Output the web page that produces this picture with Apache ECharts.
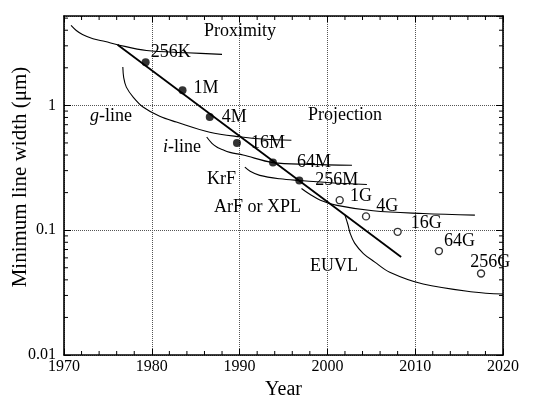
<!DOCTYPE html>
<html><head><meta charset="utf-8">
<script src="https://cdn.jsdelivr.net/npm/echarts@6/dist/echarts.min.js"></script>
<style>html,body{margin:0;padding:0;background:#fff}#c{width:535px;height:400px}</style>
</head><body><div id="c"></div>
<script>
// ---- data ----
const xTickYears = [1970, 1980, 1990, 2000, 2010, 2020];
const yTickValues = [0.01, 0.1, 1];

const trendYears = [1976.1, 2008.4];
const trendValues = [3.06, 0.061];

const proximityYears = [1970.8, 1971.4, 1972.1, 1973.3, 1974.7, 1976.1, 1979.4, 1984.0, 1988.0];
const proximityValues = [4.37, 3.98, 3.70, 3.42, 3.25, 3.06, 2.75, 2.64, 2.56];

const gLineYears = [1976.7, 1976.8, 1977.1, 1977.9, 1979.0, 1980.9, 1982.8, 1986.6, 1990.0, 1992.9, 1995.9];
const gLineValues = [2.03, 1.67, 1.40, 1.16, 0.97, 0.817, 0.735, 0.61, 0.56, 0.535, 0.525];

const iLineYears = [1986.25, 1986.85, 1987.4, 1987.8, 1988.9, 1990.4, 1993.8, 1998.0, 2002.8];
const iLineValues = [0.558, 0.497, 0.464, 0.45, 0.42, 0.40, 0.348, 0.337, 0.331];

const krfYears = [1990.6, 1991.2, 1992.3, 1994.6, 1996.8, 2000.3, 2004.5];
const krfValues = [0.32, 0.297, 0.275, 0.258, 0.25, 0.24, 0.232];

const arfYears = [1997.05, 1998.0, 1999.2, 2001.1, 2005.2, 2010.9, 2016.8];
const arfValues = [0.216, 0.194, 0.174, 0.158, 0.143, 0.136, 0.132];

const euvlYears = [2002.0, 2002.35, 2002.6, 2003.1, 2004.1, 2005.4, 2007.1, 2010.9, 2016.6, 2020.0];
const euvlValues = [0.132, 0.11, 0.094, 0.0787, 0.065, 0.0555, 0.046, 0.037, 0.032, 0.0308];

const dramNames = ['256K', '1M', '4M', '16M', '64M', '256M'];
const dramYears = [1979.3, 1983.5, 1986.6, 1989.7, 1993.8, 1996.8];
const dramValues = [2.22, 1.32, 0.806, 0.50, 0.348, 0.25];

const futureNames = ['1G', '4G', '16G', '64G', '256G'];
const futureYears = [2001.4, 2004.4, 2008.0, 2012.7, 2017.5];
const futureValues = [0.174, 0.129, 0.097, 0.068, 0.045];

// ---- layout / style ----
const FONT = '"Liberation Serif","DejaVu Serif",serif';
const X_MIN = 1970, X_MAX = 2020, Y_MIN = 0.01, Y_MAX = 5.2;
const dramLabelOffsets = [[-3, -10], [3, -2], [4, 0], [6, 0], [16, 0], [8, 0]];
const futureLabelOffsets = [[2, -4], [2, -10], [5, -9], [-3, -10], [-19, -11]];

// minor tick positions (axis decoration)
const yMinorTicks = [];
[-2, -1, 0].forEach(function (k) {
  for (let m = 2; m <= 9; m++) {
    const v = m * Math.pow(10, k);
    if (v < Y_MAX) yMinorTicks.push(v);
  }
});
const xMinorTicks = [];
for (let y = X_MIN + 2; y < X_MAX; y += 2) { if (y % 10 !== 0) xMinorTicks.push(y); }

function zip(a, b) { return a.map(function (v, i) { return [v, b[i]]; }); }

const chart = echarts.init(document.getElementById('c'), null, { renderer: 'canvas' });

const axisLineStyle = { color: '#000', width: 1.6 };
const gridLineStyle = { color: '#555', width: 1, type: [1, 1] };

function xAxisCfg(pos, main) {
  return {
    type: 'value', position: pos, min: X_MIN, max: X_MAX, interval: 10,
    axisLine: { show: true, onZero: false, lineStyle: axisLineStyle },
    axisTick: { show: true, inside: true, length: 6, lineStyle: { color: '#000', width: 1 } },
    axisLabel: main ? {
      show: true, color: '#000', fontFamily: FONT, fontSize: 16, margin: 4,
      formatter: function (v) { return xTickYears.indexOf(v) >= 0 ? String(v) : ''; }
    } : { show: false },
    splitLine: { show: main, lineStyle: gridLineStyle },
    name: main ? 'Year' : '', nameLocation: 'middle', nameGap: 25,
    nameTextStyle: { color: '#000', fontFamily: FONT, fontSize: 20 }
  };
}
function yAxisCfg(pos, main) {
  return {
    type: 'log', logBase: 10, position: pos, min: Y_MIN, max: Y_MAX,
    axisLine: { show: true, onZero: false, lineStyle: axisLineStyle },
    axisTick: { show: true, inside: true, length: 7, lineStyle: { color: '#000', width: 1 } },
    axisLabel: main ? {
      show: true, color: '#000', fontFamily: FONT, fontSize: 16, margin: 8, showMaxLabel: false,
      formatter: function (v) {
        for (let i = 0; i < yTickValues.length; i++) {
          if (Math.abs(v - yTickValues[i]) / yTickValues[i] < 1e-6) return String(yTickValues[i]);
        }
        return '';
      }
    } : { show: false },
    splitLine: { show: main, lineStyle: gridLineStyle }
  };
}

function curve(name, xs, ys, w) {
  return {
    name: name, type: 'line', data: zip(xs, ys), symbol: 'none', smooth: 0.35,
    lineStyle: { color: '#000', width: w || 1.1 }, z: 3, silent: true
  };
}

const labelStyle = {
  show: true, position: 'right', distance: 4, formatter: '{b}',
  color: '#000', opacity: 1, textBorderWidth: 0, fontFamily: FONT, fontSize: 18
};

const option = {
  animation: false,
  backgroundColor: '#fff',
  grid: { left: 64, right: 32, top: 16, bottom: 45, containLabel: false, outerBoundsMode: 'none' },
  xAxis: [xAxisCfg('bottom', true), xAxisCfg('top', false)],
  yAxis: [yAxisCfg('left', true), yAxisCfg('right', false)],
  series: [
    {
      type: 'custom', silent: true, clip: false, z: 6,
      data: yMinorTicks.map(function (v) { return [X_MIN, v]; }),
      renderItem: function (params, api) {
        const v = api.value(1);
        const pl = api.coord([X_MIN, v]);
        const pr = api.coord([X_MAX, v]);
        return {
          type: 'group', children: [
            { type: 'line', shape: { x1: pl[0], y1: pl[1], x2: pl[0] + 4, y2: pl[1] }, style: { stroke: '#000', lineWidth: 1 } },
            { type: 'line', shape: { x1: pr[0], y1: pr[1], x2: pr[0] - 4, y2: pr[1] }, style: { stroke: '#000', lineWidth: 1 } }
          ]
        };
      }
    },
    {
      type: 'custom', silent: true, clip: false, z: 6,
      data: xMinorTicks.map(function (x) { return [x, Y_MIN]; }),
      renderItem: function (params, api) {
        const x = api.value(0);
        const pb = api.coord([x, Y_MIN]);
        const pt = api.coord([x, Y_MAX]);
        return {
          type: 'group', children: [
            { type: 'line', shape: { x1: pb[0], y1: pb[1], x2: pb[0], y2: pb[1] - 4 }, style: { stroke: '#000', lineWidth: 1 } },
            { type: 'line', shape: { x1: pt[0], y1: pt[1], x2: pt[0], y2: pt[1] + 4 }, style: { stroke: '#000', lineWidth: 1 } }
          ]
        };
      }
    },
    curve('Proximity', proximityYears, proximityValues),
    curve('g-line', gLineYears, gLineValues),
    curve('i-line', iLineYears, iLineValues),
    curve('KrF', krfYears, krfValues),
    curve('ArF or XPL', arfYears, arfValues),
    curve('EUVL', euvlYears, euvlValues),
    {
      name: 'trend', type: 'line', data: zip(trendYears, trendValues), symbol: 'none',
      lineStyle: { color: '#000', width: 1.8 }, z: 4, silent: true
    },
    {
      name: 'DRAM', type: 'scatter', symbol: 'circle', symbolSize: 8, z: 5,
      itemStyle: { color: '#000' },
      data: dramYears.map(function (y, i) {
        return {
          value: [y, dramValues[i]], name: dramNames[i],
          label: { offset: dramLabelOffsets[i], color: '#000' }
        };
      }),
      label: labelStyle
    },
    {
      name: 'Future', type: 'scatter', symbol: 'circle', symbolSize: 7, z: 5,
      itemStyle: { color: '#fff', borderColor: '#000', borderWidth: 1.4 },
      data: futureYears.map(function (y, i) {
        return {
          value: [y, futureValues[i]], name: futureNames[i],
          label: { offset: futureLabelOffsets[i], color: '#000' }
        };
      }),
      label: labelStyle
    }
  ],
  graphic: [
    { type: 'text', x: 20, y: 177, rotation: Math.PI / 2,
      style: { text: 'Minimum line width (\u03bcm)', font: '21px ' + FONT, fill: '#000', align: 'center', verticalAlign: 'middle' } },
    { type: 'text', left: 204, top: 22, style: { text: 'Proximity', font: '18px ' + FONT, fill: '#000' } },
    { type: 'text', left: 308, top: 106, style: { text: 'Projection', font: '18px ' + FONT, fill: '#000' } },
    { type: 'text', left: 90, top: 107, style: { text: '{i|g}-line', font: '18px ' + FONT, fill: '#000',
        rich: { i: { fontStyle: 'italic', fontFamily: FONT, fontSize: 18, fill: '#000' } } } },
    { type: 'text', left: 163, top: 138, style: { text: '{i|i}-line', font: '18px ' + FONT, fill: '#000',
        rich: { i: { fontStyle: 'italic', fontFamily: FONT, fontSize: 18, fill: '#000' } } } },
    { type: 'text', left: 207, top: 170, style: { text: 'KrF', font: '18px ' + FONT, fill: '#000' } },
    { type: 'text', left: 214, top: 198, style: { text: 'ArF or XPL', font: '18px ' + FONT, fill: '#000' } },
    { type: 'text', left: 310, top: 257, style: { text: 'EUVL', font: '18px ' + FONT, fill: '#000' } }
  ]
};
chart.setOption(option);
</script>
</body></html>
